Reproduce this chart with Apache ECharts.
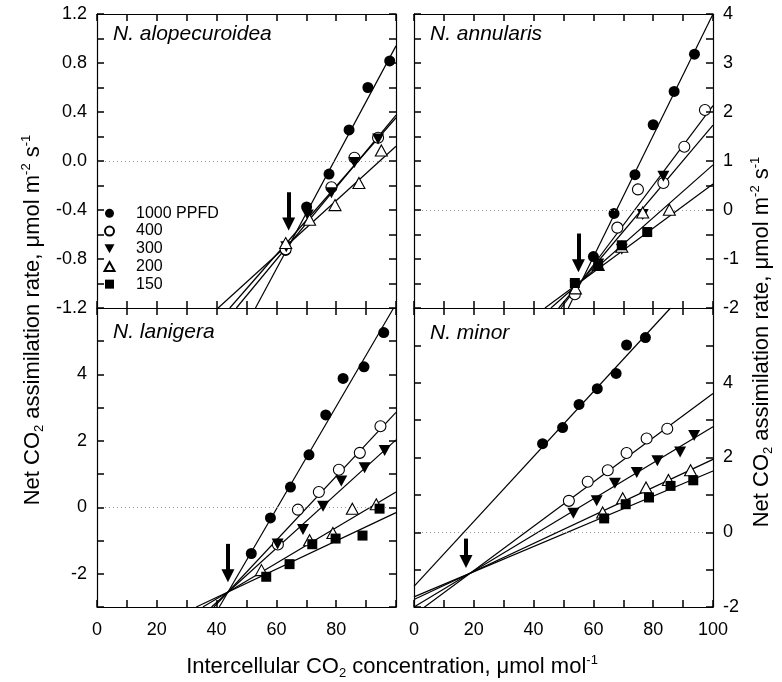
<!DOCTYPE html>
<html><head><meta charset="utf-8">
<script src="https://cdn.jsdelivr.net/npm/echarts@6/dist/echarts.min.js"></script>
<style>html,body{margin:0;padding:0;background:#fff}#c{width:782px;height:682px}</style>
</head><body><div id="c"></div>
<script>
// ---------------- DATA ----------------
const levels = ['1000 PPFD', '400', '300', '200', '150'];
const panelNames = ['N. alopecuroidea', 'N. annularis', 'N. lanigera', 'N. minor'];

const xLabelsLeft = [0, 20, 40, 60, 80];
const xLabelsRight = [0, 20, 40, 60, 80, 100];
const yLabelsTL = [-1.2, -0.8, -0.4, 0, 0.4, 0.8, 1.2];
const yLabelsTR = [-2, -1, 0, 1, 2, 3, 4];
const yLabelsBL = [-2, 0, 2, 4];
const yLabelsBR = [-2, 0, 2, 4];

const aloP1000 = [[63.1, -0.73], [70.1, -0.375], [77.6, -0.107], [84.3, 0.254], [90.6, 0.60], [97.9, 0.817]];
const aloP400 = [[63.1, -0.72], [78.4, -0.214], [86.1, 0.027], [94.0, 0.19]];
const aloP300 = [[63.3, -0.70], [70.5, -0.44], [78.4, -0.26], [86.1, -0.013], [94.0, 0.18]];
const aloP200 = [[63.1, -0.67], [71.1, -0.48], [79.6, -0.36], [87.6, -0.18], [95.1, 0.086]];
const aloFit1000 = [[53.0, -1.2], [100, 0.94]];
const aloFit400 = [[46.6, -1.2], [100, 0.375]];
const aloFit300 = [[44.4, -1.2], [100, 0.353]];
const aloFit200 = [[40.5, -1.2], [100, 0.12]];
const aloArrow = [[64.1, -0.255], [64.1, -0.514]];

const annP1000 = [[60.0, -0.95], [66.9, -0.07], [73.9, 0.72], [80.0, 1.74], [87.0, 2.42], [93.8, 3.18]];
const annP400 = [[53.8, -1.72], [68.0, -0.36], [74.9, 0.42], [83.4, 0.55], [90.4, 1.29], [97.3, 2.04]];
const annP300 = [[54.0, -1.55], [61.6, -1.10], [69.5, -0.80], [76.5, -0.09], [83.4, 0.69]];
const annP200 = [[54.0, -1.60], [61.6, -1.12], [69.5, -0.75], [76.5, -0.05], [85.4, 0.005]];
const annP150 = [[53.8, -1.49], [61.6, -1.14], [69.5, -0.72], [78.0, -0.45]];
const annFit1000 = [[51.6, -2], [100, 4]];
const annFit400 = [[49.2, -2], [100, 2.13]];
const annFit300 = [[48.4, -2], [100, 1.73]];
const annFit200 = [[45.8, -2], [100, 0.92]];
const annFit150 = [[43.8, -2], [100, 0.53]];
const annArrow = [[55.0, -0.48], [55.0, -1.14]];

const lanP1000 = [[51.6, -1.39], [58.0, -0.32], [64.7, 0.61], [70.9, 1.58], [76.5, 2.78], [82.3, 3.88], [89.3, 4.23], [95.9, 5.26]];
const lanP400 = [[60.5, -1.12], [67.2, -0.07], [74.2, 0.46], [80.9, 1.13], [87.9, 1.64], [94.8, 2.44]];
const lanP300 = [[60.4, -1.10], [68.9, -0.67], [75.6, 0.03], [81.7, 0.79], [89.5, 1.19], [96.2, 1.71]];
const lanP200 = [[55.0, -1.89], [71.1, -0.99], [78.9, -0.77], [85.4, -0.04], [93.4, 0.09]];
const lanP150 = [[56.6, -2.09], [64.4, -1.71], [72.0, -1.11], [79.8, -0.94], [88.8, -0.85], [94.5, -0.04]];
const lanFit1000 = [[40.9, -3], [99.2, 6]];
const lanFit400 = [[39.1, -3], [100, 2.86]];
const lanFit300 = [[38.3, -3], [100, 2.03]];
const lanFit200 = [[35.4, -3], [100, 0.46]];
const lanFit150 = [[33.2, -3], [100, -0.16]];
const lanArrow = [[43.8, -1.10], [43.8, -2.06]];

const minP1000 = [[43.0, 2.37], [49.7, 2.80], [55.2, 3.42], [61.3, 3.84], [67.6, 4.25], [71.1, 5.01], [77.4, 5.21]];
const minP400 = [[51.8, 0.84], [58.1, 1.35], [64.8, 1.66], [71.1, 2.12], [77.8, 2.51], [84.7, 2.77]];
const minP300 = [[53.3, 0.51], [61.1, 0.84], [67.2, 1.31], [74.5, 1.60], [81.4, 1.91], [89.0, 2.15], [93.7, 2.59]];
const minP200 = [[63.1, 0.53], [69.8, 0.91], [77.6, 1.20], [85.1, 1.40], [92.5, 1.66]];
const minP150 = [[63.6, 0.37], [70.8, 0.75], [78.6, 0.93], [85.8, 1.24], [93.4, 1.39]];
const minFit1000 = [[0, -1.45], [85.8, 6]];
const minFit400 = [[0, -2.21], [100, 3.71]];
const minFit300 = [[0, -2.00], [100, 2.82]];
const minFit200 = [[0, -1.80], [100, 1.95]];
const minFit150 = [[0, -1.73], [100, 1.64]];
const minArrow = [[17.4, -0.17], [17.4, -0.78]];

// ---------------- LAYOUT / STYLE ----------------
const FONT = '"Liberation Sans", Arial, sans-serif';
const panels = [
  { points: [aloP1000, aloP400, aloP300, aloP200, null], fits: [aloFit1000, aloFit400, aloFit300, aloFit200, null], arrow: aloArrow,
    grid: { left: 97, top: 10, width: 299, height: 298 }, yMin: -1.2, yMax: 1.2, yInt: 0.2, yLab: yLabelsTL, yFmt: v => v.toFixed(1), ySide: 'left', xLab: null },
  { points: [annP1000, annP400, annP300, annP200, annP150], fits: [annFit1000, annFit400, annFit300, annFit200, annFit150], arrow: annArrow,
    grid: { left: 414, top: 10, width: 299, height: 298 }, yMin: -2, yMax: 4, yInt: 0.5, yLab: yLabelsTR, yFmt: v => String(Math.round(v)), ySide: 'right', xLab: null },
  { points: [lanP1000, lanP400, lanP300, lanP200, lanP150], fits: [lanFit1000, lanFit400, lanFit300, lanFit200, lanFit150], arrow: lanArrow,
    grid: { left: 97, top: 308, width: 299, height: 299 }, yMin: -3, yMax: 6, yInt: 1, yLab: yLabelsBL, yFmt: v => String(Math.round(v)), ySide: 'left', xLab: xLabelsLeft },
  { points: [minP1000, minP400, minP300, minP200, minP150], fits: [minFit1000, minFit400, minFit300, minFit200, minFit150], arrow: minArrow,
    grid: { left: 414, top: 308, width: 299, height: 299 }, yMin: -2, yMax: 6, yInt: 1, yLab: yLabelsBR, yFmt: v => String(Math.round(v)), ySide: 'right', xLab: xLabelsRight }
];
const labelPos = [[113, 34], [430, 34], [113, 332], [430, 333]];

const symStyle = {
  '1000 PPFD': { symbol: 'circle', size: 11, fill: '#000' },
  '400': { symbol: 'circle', size: 11, fill: '#fff' },
  '300': { symbol: 'path://M0,0L10,0L5,9Z', size: [12, 11], fill: '#000' },
  '200': { symbol: 'path://M5,0L10,9L0,9Z', size: [12, 11], fill: '#fff' },
  '150': { symbol: 'path://M0,0L10,0L10,10L0,10Z', size: 10, fill: '#000' }
};

const has = (arr, v) => arr.some(l => Math.abs(l - v) < 1e-6);
const mkTick = () => ({ show: true, inside: true, length: 7, lineStyle: { color: '#000', width: 1.5 } });
const mkLine = () => ({ show: true, onZero: false, lineStyle: { color: '#000', width: 1.2 } });
const arrowStyle = { color: '#000', width: 4, type: 'solid', opacity: 1 };

const grid = [], xAxis = [], yAxis = [], series = [], graphic = [];
panels.forEach((p, i) => {
  grid.push(Object.assign({ show: false }, p.grid));
  ['bottom', 'top'].forEach(pos => {
    xAxis.push({
      type: 'value', gridIndex: i, position: pos, min: 0, max: 100, interval: 10, z: 20,
      axisLine: mkLine(), axisTick: mkTick(), splitLine: { show: false },
      axisLabel: {
        show: true, margin: 14, color: pos === 'bottom' && p.xLab ? '#000' : 'rgba(0,0,0,0)', fontSize: 18, fontFamily: FONT,
        formatter: v => (p.xLab && pos === 'bottom' && has(p.xLab, v)) ? String(v) : ''
      }
    });
  });
  ['left', 'right'].forEach(pos => {
    yAxis.push({
      type: 'value', gridIndex: i, position: pos, min: p.yMin, max: p.yMax, interval: p.yInt, z: 20,
      axisLine: mkLine(), axisTick: mkTick(), splitLine: { show: false },
      axisLabel: {
        show: true, margin: 10, color: pos === p.ySide ? '#000' : 'rgba(0,0,0,0)', fontSize: 18, fontFamily: FONT,
        formatter: v => (pos === p.ySide && has(p.yLab, v)) ? p.yFmt(v) : ''
      }
    });
  });
  series.push({
    type: 'line', name: 'zero', xAxisIndex: 2 * i, yAxisIndex: 2 * i, data: [],
    silent: true, z: 1, animation: false,
    markLine: {
      silent: true, animation: false, symbol: ['none', 'none'], label: { show: false },
      emphasis: { disabled: true },
      lineStyle: { color: '#9a9a9a', type: [1, 3], width: 1 },
      data: [{ yAxis: 0 }]
    }
  });
  levels.forEach((lv, k) => {
    const f = p.fits[k];
    if (!f) return;
    series.push({
      type: 'line', name: 'fit ' + lv, xAxisIndex: 2 * i, yAxisIndex: 2 * i, data: f,
      symbol: 'none', clip: true, silent: true, z: 2, animation: false,
      lineStyle: { color: '#000', width: 1.2 }
    });
  });
  series.push({
    type: 'line', name: 'arrow', xAxisIndex: 2 * i, yAxisIndex: 2 * i, data: [],
    silent: true, z: 10, animation: false,
    markLine: {
      silent: true, animation: false, symbol: ['none', 'triangle'], symbolSize: [13, 13],
      label: { show: false }, emphasis: { disabled: true },
      lineStyle: arrowStyle, itemStyle: { color: '#000' },
      data: [[{ coord: p.arrow[0] }, { coord: p.arrow[1] }]]
    }
  });
  levels.forEach((lv, k) => {
    const d = p.points[k];
    if (!d) return;
    const st = symStyle[lv];
    series.push({
      type: 'scatter', name: lv, xAxisIndex: 2 * i, yAxisIndex: 2 * i, data: d,
      symbol: st.symbol, symbolSize: st.size, z: 3 + k, animation: false,
      itemStyle: { color: st.fill, borderColor: '#000', borderWidth: st.fill === '#fff' ? 1.1 : 0, opacity: 1 },
      emphasis: { disabled: true }
    });
  });
  graphic.push({
    type: 'text', x: labelPos[i][0], y: labelPos[i][1],
    style: { text: panelNames[i], font: 'italic 21px ' + FONT, fill: '#000', verticalAlign: 'middle' }
  });
});

const rich = {
  m: { fontSize: 22, fontFamily: FONT, lineHeight: 26, verticalAlign: 'middle', color: '#000' },
  s: { fontSize: 13, fontFamily: FONT, lineHeight: 13, verticalAlign: 'bottom', color: '#000' },
  p: { fontSize: 13, fontFamily: FONT, lineHeight: 16, verticalAlign: 'top', color: '#000' }
};
const yTitle = '{m|Net CO}{s|2}{m| assimilation rate, μmol m}{p|-2}{m| s}{p|-1}';
graphic.push({ type: 'text', x: 33, y: 320, rotation: Math.PI / 2,
  style: { text: yTitle, rich: rich, align: 'center', verticalAlign: 'middle', fill: '#000' } });
graphic.push({ type: 'text', x: 762, y: 342, rotation: Math.PI / 2,
  style: { text: yTitle, rich: rich, align: 'center', verticalAlign: 'middle', fill: '#000' } });
graphic.push({ type: 'text', x: 392, y: 667,
  style: { text: '{m|Intercellular CO}{s|2}{m| concentration, μmol mol}{p|-1}', rich: rich, align: 'center', verticalAlign: 'middle', fill: '#000' } });

const option = {
  animation: false,
  backgroundColor: '#fff',
  grid, xAxis, yAxis, series, graphic,
  legend: {
    data: levels.map(n => ({ name: n, icon: symStyle[n].symbol })),
    orient: 'vertical', left: 103.5, top: 204.5, padding: 0, itemGap: 0,
    itemWidth: 43, itemHeight: 9, selectedMode: false,
    textStyle: { fontSize: 16, fontFamily: FONT, color: '#000', lineHeight: 17.7 }
  }
};
const chart = echarts.init(document.getElementById('c'), null, { renderer: 'canvas' });
chart.setOption(option);
</script>
</body></html>
